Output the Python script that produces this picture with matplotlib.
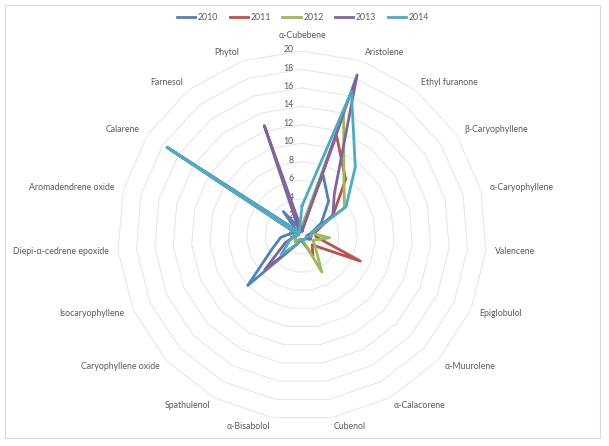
import numpy as np
import matplotlib
matplotlib.use("Agg")
import matplotlib.pyplot as plt
from matplotlib.patches import Rectangle

# categories, clockwise from the top
categories = ["α-Cubebene", "Aristolene", "Ethyl furanone", "β-Caryophyllene",
              "α-Caryophyllene", "Valencene", "Epiglobulol", "α-Muurolene",
              "α-Calacorene", "Cubenol", "α-Bisabolol", "Spathulenol",
              "Caryophyllene oxide", "Isocaryophyllene", "Diepi-α-cedrene epoxide",
              "Aromadendrene oxide", "Calarene", "Farnesol", "Phytol"]

years = ["2010", "2011", "2012", "2013", "2014"]

v2010 = [1.0, 7.0, 4.7, 2.5, 1.0, 1.0, 1.0, 0.5, 0.5, 0.5, 0.5, 1.0, 8.0, 3.5, 2.3, 1.1, 0.5, 3.3, 0.8]
v2011 = [0.5, 11.5, 7.7, 4.0, 1.5, 1.5, 6.9, 1.5, 2.5, 0.8, 0.5, 0.5, 1.0, 0.8, 0.6, 0.4, 17.0, 0.4, 1.0]
v2012 = [1.0, 13.9, 7.4, 5.5, 1.0, 3.0, 1.3, 2.0, 4.5, 0.5, 0.5, 0.5, 1.0, 0.8, 0.6, 0.4, 17.2, 0.4, 1.0]
v2013 = [0.5, 18.4, 5.7, 4.0, 1.0, 0.5, 1.0, 0.5, 0.5, 0.5, 0.5, 1.0, 5.5, 2.0, 0.8, 0.4, 17.0, 0.4, 12.6]
v2014 = [3.2, 16.5, 9.4, 5.7, 1.0, 1.0, 0.5, 0.5, 0.5, 0.5, 0.5, 1.0, 3.1, 1.5, 0.8, 0.4, 17.5, 0.4, 0.8]

series = [v2010, v2011, v2012, v2013, v2014]
colors = ["#4F81BD", "#C0504D", "#9BBB59", "#8064A2", "#4BACC6"]

ticks = [0, 2, 4, 6, 8, 10, 12, 14, 16, 18, 20]

plt.rcParams["font.family"] = ["Lato", "DejaVu Sans"]
txt = "#595959"

W, H = 609, 446
cx, cy, rad = 302, 235.5, 184.5

fig = plt.figure(figsize=(W / 100, H / 100), dpi=100)
ax = fig.add_axes([(cx - rad) / W, (H - cy - rad) / H, 2 * rad / W, 2 * rad / H],
                  projection="polar")
ax.set_theta_zero_location("N")
ax.set_theta_direction(-1)
ax.set_ylim(0, 20)
ax.grid(False)
ax.spines["polar"].set_visible(False)
ax.set_xticks([])
ax.set_yticks([])
ax.patch.set_alpha(0)

n = len(categories)
angles = np.linspace(0, 2 * np.pi, n, endpoint=False)
closed = np.append(angles, angles[0])

# polygon gridlines
for t in ticks[1:]:
    ax.plot(closed, [t] * (n + 1), color="#E6E6E6", lw=0.75, zorder=1)

for t in ticks:
    ax.annotate(str(t), xy=(0, t), xytext=(-6, 1), textcoords="offset points",
                ha="right", va="center", fontsize=6.3, color=txt)

for vals, col, yr in zip(series, colors, years):
    ax.plot(closed, vals + vals[:1], color=col, lw=2, label=yr, zorder=3)

for ang, name in zip(angles, categories):
    s, c = np.sin(ang), np.cos(ang)
    if abs(s) < 0.1:
        ha = "center"
        off = (0, 11 if c > 0 else -8)
    else:
        ha = "left" if s > 0 else "right"
        off = (6.5 * s, 6.5 * c)
    ax.annotate(name, xy=(ang, 20), xytext=off, textcoords="offset points",
                ha=ha, va="center", fontsize=6.3, color=txt)

fig.legend(loc="center", bbox_to_anchor=(303 / W, 1 - 18 / H), ncol=5, frameon=False,
           fontsize=6.3, handlelength=2.1, columnspacing=1.3, handletextpad=0.3,
           labelcolor=txt)

fig.patches.append(Rectangle((5 / W, 8 / H), 595 / W, 433 / H, transform=fig.transFigure,
                             fill=False, edgecolor="#D9D9D9", lw=0.8))

fig.savefig("out.png", dpi=100)
